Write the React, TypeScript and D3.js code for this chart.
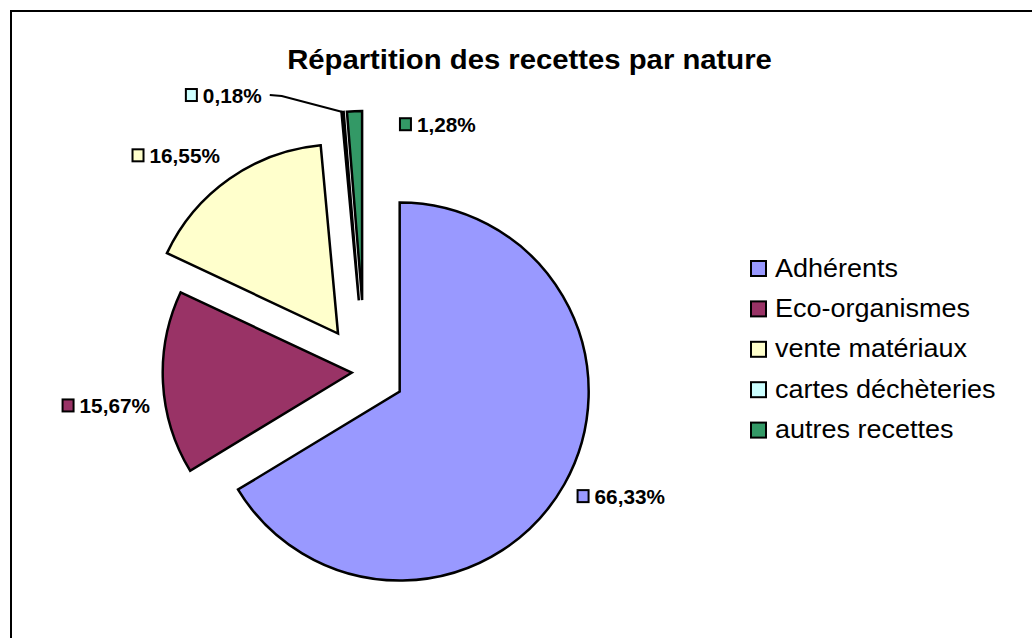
import React from 'react';
import * as d3 from 'd3';

const title = 'Répartition des recettes par nature';
const categories = ['Adhérents', 'Eco-organismes', 'vente matériaux', 'cartes déchèteries', 'autres recettes'];
const values = [66.33, 15.67, 16.55, 0.18, 1.28];
const colors = ['#9999FF', '#993366', '#FFFFCC', '#CCFFFF', '#339966'];

// layout / style settings
const explode = [39.8, 13.3, 47, 72, 72];
const labelNudge: [number, number][] = [[0, 5], [1, 22], [-1.5, -12], [-79.6, -3], [45, 27]];
const leader = [false, false, false, true, false];

const W = 1032, H = 638;
const CX = 365, CY = 372, R = 189;
const FONT = '"Liberation Sans", Arial, Helvetica, sans-serif';
const SX = 1.065;
const LABEL_SIZE = 19.5;

let ctx: CanvasRenderingContext2D | null = null;
function measure(text: string, font: string): number {
  if (!ctx && typeof document !== 'undefined') {
    ctx = document.createElement('canvas').getContext('2d');
  }
  if (!ctx) return text.length * 11;
  ctx.font = font;
  return ctx.measureText(text).width;
}

const fmt = (v: number) => d3.format('.2f')(v).replace('.', ',') + '%';

export default function App() {
  const pie = d3.pie<number>().sort(null).startAngle(0).endAngle(2 * Math.PI)(values);
  const arc = d3.arc<d3.PieArcDatum<number>>().innerRadius(0).outerRadius(R);

  const slices = pie.map((p, i) => {
    const mid = (p.startAngle + p.endAngle) / 2;
    const dx = Math.sin(mid), dy = -Math.cos(mid);
    const ax = CX + explode[i] * dx, ay = CY + explode[i] * dy;
    const gx = ax + (R + 14) * dx + labelNudge[i][0];
    const gy = ay + (R + 14) * dy + labelNudge[i][1];
    const text = fmt(values[i]);
    const tw = measure(text, `bold ${LABEL_SIZE}px ${FONT}`) * SX;
    const start = gx >= CX;
    const keyX = start ? gx : gx - tw - 18;
    const textX = keyX + 18;
    const outer = [ax + R * dx, ay + R * dy];
    return { p, i, ax, ay, gx, gy, text, tw, keyX, textX, outer };
  });

  const legendX = 750, legendY = 260, legendStep = 40.4;

  return (
    <svg width={W} height={H} style={{ position: 'fixed', left: 0, top: 0, background: '#fff' }}
      fontFamily={FONT}>
      <rect x={0} y={0} width={W} height={H} fill="#fff" />
      <rect x={11} y={11} width={1200} height={1000} fill="none" stroke="#000" strokeWidth={2} />
      <text transform={`translate(529.5,69) scale(${SX},1)`} textAnchor="middle" fontWeight="bold"
        fontSize={27.5} fill="#000">{title}</text>

      {slices.map((s) => (
        <path key={'s' + s.i} d={arc(s.p) || ''} transform={`translate(${s.ax},${s.ay})`}
          fill={colors[s.i]} stroke="#000" strokeWidth={2.5} strokeLinejoin="miter" />
      ))}

      {slices.map((s) => leader[s.i] ? (
        <polyline key={'l' + s.i} fill="none" stroke="#000" strokeWidth={2}
          points={`${s.outer[0]},${s.outer[1]} ${s.gx + 20},${s.gy + 1} ${s.gx + 8},${s.gy}`} />
      ) : null)}

      {slices.map((s) => (
        <g key={'t' + s.i}>
          <rect x={s.keyX + 1} y={s.gy - 6} width={11} height={12} fill={colors[s.i]} stroke="#000" strokeWidth={2} />
          <text transform={`translate(${s.textX},${s.gy + 7.5}) scale(${SX},1)`}
            fontWeight="bold" fontSize={LABEL_SIZE} fill="#000">{s.text}</text>
        </g>
      ))}

      {categories.map((c, i) => (
        <g key={'g' + i}>
          <rect x={legendX + 1} y={legendY + i * legendStep + 1} width={15} height={15}
            fill={colors[i]} stroke="#000" strokeWidth={2} />
          <text transform={`translate(775,${legendY + i * legendStep + 16.5}) scale(1.08,1)`}
            fontSize={25} fill="#000">{c}</text>
        </g>
      ))}
    </svg>
  );
}
